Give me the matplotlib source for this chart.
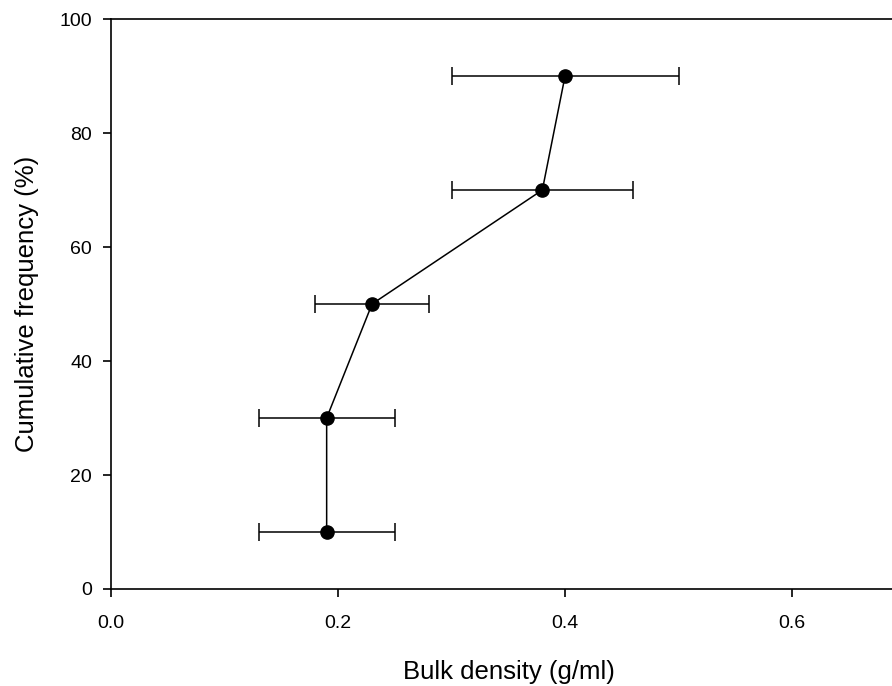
import numpy as np
import matplotlib
matplotlib.use('Agg')
import matplotlib.pyplot as plt

# data
density = [0.19, 0.19, 0.23, 0.38, 0.40]
freq = [10, 30, 50, 70, 90]
density_err = [0.06, 0.06, 0.05, 0.08, 0.10]
xticks = [0.0, 0.2, 0.4, 0.6]
yticks = [0, 20, 40, 60, 80, 100]

plt.rcParams['font.family'] = ['Liberation Sans', 'DejaVu Sans']

fig = plt.figure(figsize=(8.92, 6.86), dpi=100)
ax = fig.add_axes([0.1244, 0.1414, 0.8756, 0.8309])

ax.errorbar(density, freq, xerr=density_err, fmt='o-', color='black',
            ecolor='black', elinewidth=1.1, capsize=6.5, capthick=1.1,
            markersize=9.5, linewidth=1.1)

ax.set_xlim(0, 0.688)
ax.set_ylim(0, 100)
ax.set_xticks(xticks)
ax.set_xticklabels(['%.1f' % v for v in xticks])
ax.set_yticks(yticks)
ax.tick_params(direction='out', length=5.5, width=1.2, labelsize=14)
ax.tick_params(axis='x', pad=13.5)
ax.tick_params(axis='y', pad=8)
ax.spines['right'].set_visible(False)
for s in ['left', 'bottom', 'top']:
    ax.spines[s].set_linewidth(1.2)

ax.set_xlabel('Bulk density (g/ml)', fontsize=18.5, labelpad=20)
ax.xaxis.label.set_x(0.51)
ax.set_ylabel('Cumulative frequency (%)', fontsize=18.5, labelpad=15)

fig.savefig('out.png', dpi=100)
